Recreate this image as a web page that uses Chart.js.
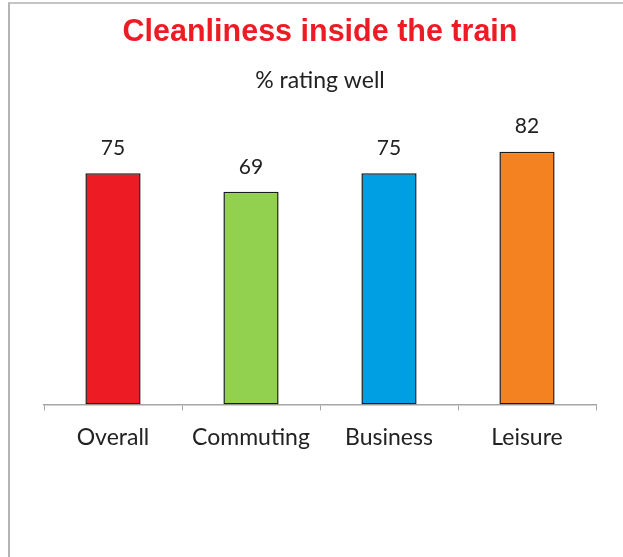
<!DOCTYPE html>
<html>
<head>
<meta charset="utf-8">
<script src="https://cdn.jsdelivr.net/npm/chart.js@4"></script>
<style>
  body { margin: 0; background: #fff; }
  .frame {
    position: absolute; left: 8px; top: 2px; width: 615px; height: 555px;
    border-left: 2px solid #b4b4b4; border-top: 2px solid #c4c4c4;
  }
  .box { position: absolute; left: 10px; top: 0; width: 613px; height: 557px; }
</style>
</head>
<body>
<div class="frame"></div>
<div class="box"><canvas id="myChart"></canvas></div>
<script>
var categories = ['Overall', 'Commuting', 'Business', 'Leisure'];
var ratings = [75, 69, 75, 82];
var barColours = ['#ED1C24', '#92D050', '#009FE3', '#F58220'];

// values written on top of each bar
var barValues = {
  id: 'barValues',
  afterDatasetsDraw: function(chart) {
    var ctx = chart.ctx;
    var meta = chart.getDatasetMeta(0);
    ctx.save();
    ctx.font = '21px Lato';
    ctx.fillStyle = '#222';
    ctx.textAlign = 'center';
    ctx.textBaseline = 'middle';
    meta.data.forEach(function(bar, i) {
      ctx.fillText(ratings[i], bar.x, bar.y - 25);
    });
    ctx.restore();
  }
};

var ctx = document.getElementById('myChart').getContext('2d');
var myChart = new Chart(ctx, {
  type: 'bar',
  data: {
    labels: categories,
    datasets: [{
      data: ratings,
      backgroundColor: barColours,
      borderColor: '#1a1a1a',
      borderWidth: 1.5,
      borderSkipped: false,
      barPercentage: 0.4,
      categoryPercentage: 1
    }]
  },
  options: {
    responsive: true,
    maintainAspectRatio: false,
    animation: false,
    layout: { padding: { left: 34, right: 27, top: 0, bottom: 93 } },
    plugins: {
      legend: { display: false },
      tooltip: { enabled: false },
      title: {
        display: true,
        text: 'Cleanliness inside the train',
        color: '#ED1C24',
        font: { family: 'Liberation Sans', size: 30.5, weight: 'bold' },
        padding: { top: 14, bottom: 6 }
      },
      subtitle: {
        display: true,
        text: '% rating well',
        color: '#222',
        font: { family: 'Lato', size: 23 },
        padding: { top: 10, bottom: 2 }
      }
    },
    scales: {
      x: {
        offset: true,
        grid: { drawOnChartArea: false, drawTicks: true, tickLength: 6, color: '#a6a6a6', offset: true },
        border: { color: '#a6a6a6', width: 1.5 },
        ticks: { color: '#222', font: { family: 'Lato', size: 23 }, padding: 13 }
      },
      y: { display: false, min: 0, max: 100 }
    }
  },
  plugins: [barValues]
});
</script>
</body>
</html>
